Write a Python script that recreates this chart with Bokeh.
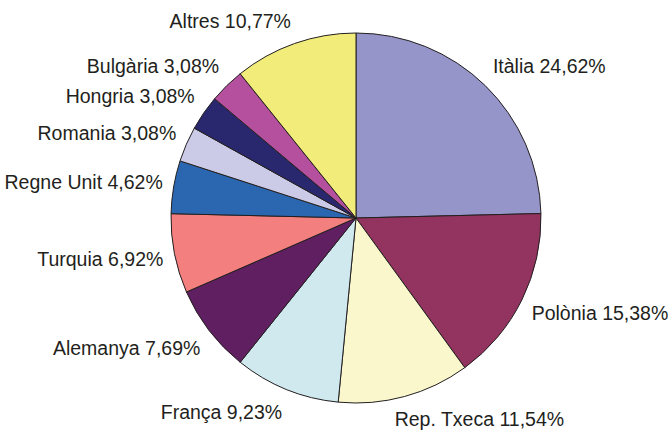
import math
from bokeh.plotting import figure
from bokeh.models import Range1d, ColumnDataSource
from bokeh.core.properties import value
from bokeh.embed import file_html
from bokeh.resources import INLINE

countries = ["Itàlia", "Polònia", "Rep. Txeca", "França", "Alemanya", "Turquia",
             "Regne Unit", "Romania", "Hongria", "Bulgària", "Altres"]
shares = [24.62, 15.38, 11.54, 9.23, 7.69, 6.92, 4.62, 3.08, 3.08, 3.08, 10.77]
colors = ["#9595C9", "#93335F", "#FAF7CC", "#CFE9EF", "#5F1F60", "#F37F7E",
          "#2B66B0", "#CCCBE7", "#29286E", "#B4509E", "#F2EC7A"]

W, H = 668, 430
cx, cy = 355.5, H - 217.5
radius = 185
label_r = 196
font_px = 19.5
half_h = 12.0

# approximate Arial/Liberation Sans advance widths (per 1000 em)
CW = {" ": 278, "%": 889, ",": 278, ".": 278, "A": 667, "B": 667, "F": 611,
      "H": 722, "I": 278, "P": 667, "R": 722, "T": 611, "U": 722, "b": 556,
      "c": 500, "ç": 500, "i": 222, "l": 222, "m": 833, "r": 333, "s": 500,
      "t": 278, "x": 500, "y": 500}


def text_width(s):
    return sum(CW.get(ch, 556) for ch in s) / 1000.0 * font_px


def clip(v):
    return max(-1.0, min(1.0, v))


total = sum(shares)
start, end, lx, ly, labels = [], [], [], [], []
acc = 0.0
for c, s in zip(countries, shares):
    t1 = acc / total * 2 * math.pi
    acc += s
    t2 = acc / total * 2 * math.pi
    start.append(math.pi / 2 - t2)
    end.append(math.pi / 2 - t1)
    tm = (t1 + t2) / 2
    lab = f"{c} " + f"{s:.2f}".replace(".", ",") + "%"
    w = text_width(lab)
    fx = clip(3.2 * math.sin(tm))
    fy = clip(1.5 * math.cos(tm))
    lx.append(cx + label_r * math.sin(tm) + fx * w / 2)
    ly.append(cy + label_r * math.cos(tm) + fy * half_h)
    labels.append(lab)

src = ColumnDataSource(dict(x=[cx] * len(shares), y=[cy] * len(shares),
                            start=start, end=end, color=colors))
lsrc = ColumnDataSource(dict(x=lx, y=ly, text=labels))

p = figure(width=W, height=H, x_range=Range1d(0, W), y_range=Range1d(0, H),
           output_backend="svg", toolbar_location=None, min_border=0)
p.axis.visible = False
p.grid.visible = False
p.outline_line_color = None
p.background_fill_color = "white"
p.border_fill_color = "white"

p.wedge(x="x", y="y", radius=radius, start_angle="start", end_angle="end",
        fill_color="color", line_color="#231F20", line_width=1, source=src)
p.text(x="x", y="y", text="text", text_align="center", text_baseline="middle",
       text_font=value("Liberation Sans"), text_font_size=f"{font_px}px",
       text_color="#231F20", source=lsrc)

open("out.html", "w").write(file_html(p, INLINE))
